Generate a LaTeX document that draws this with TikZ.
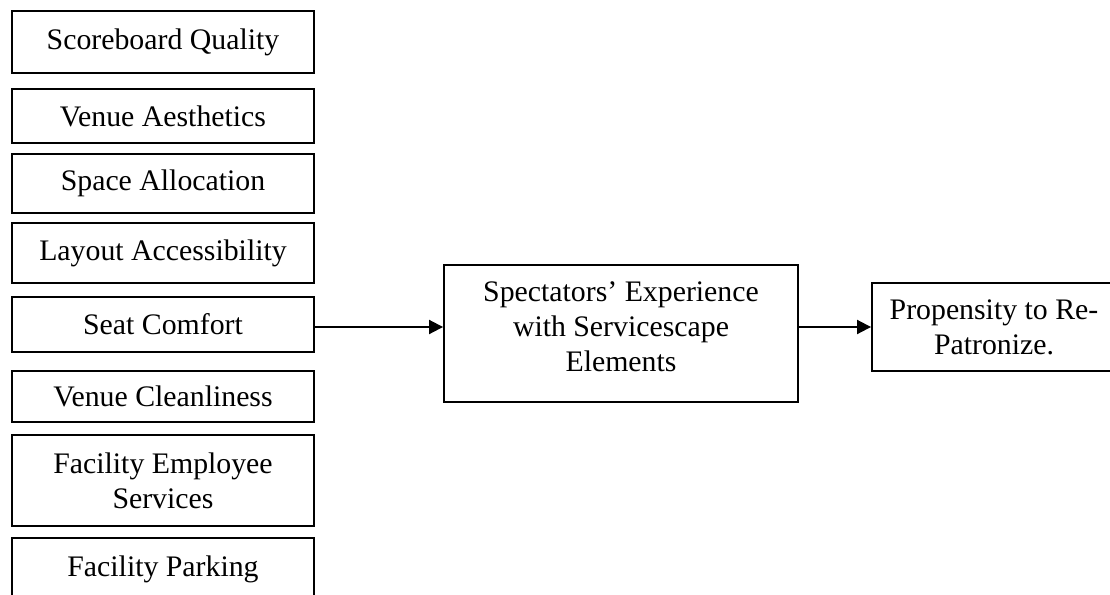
\documentclass[tikz,border=0pt]{standalone}
\usepackage{fontspec}
\setmainfont{Liberation Serif}
\usetikzlibrary{arrows.meta}
\begin{document}
\begin{tikzpicture}[x=1pt,y=-1pt,
  box/.style={draw, line width=1.9pt, inner sep=0pt, align=center,
    font=\fontsize{29.8}{35}\selectfont},
  factor/.style={box, minimum width=302pt},
  link/.style={line width=1.9pt, -{Triangle[length=14pt,width=14pt]}}]
\useasboundingbox (0,0) rectangle (1110,594);
\clip (0,0) rectangle (1110,594);

% servicescape factors
\node[factor, minimum height=62pt] (sq) at (163,42)    {Scoreboard Quality};
\node[factor, minimum height=54pt] (va) at (163,116)   {Venue Aesthetics};
\node[factor, minimum height=59pt] (sa) at (163,183.5) {Space Allocation};
\node[factor, minimum height=60pt] (la) at (163,253)   {Layout Accessibility};
\node[factor, minimum height=55pt] (sc) at (163,324.5) {Seat Comfort};
\node[factor, minimum height=51pt] (vc) at (163,396.5) {Venue Cleanliness};
\node[factor, minimum height=91pt] (fe) at (163,480.5) {Facility Employee\\Services};
\node[factor, minimum height=62pt] (fp) at (163,569)   {Facility Parking};

% experience and outcome
\node[box, minimum width=354pt, minimum height=137pt] (exp) at (621,333.5)
  {Spectators’ Experience\\with Servicescape\\Elements\rule[-13pt]{0pt}{13pt}};
\node[box, minimum width=244pt, minimum height=88pt] (rp) at (994,327)
  {Propensity to Re-\\Patronize.};

% connectors
\coordinate (scout) at ([yshift=-2.5pt]sc.east);
\draw[link] (scout) -- (scout -| exp.west);
\draw[link] (exp.east |- rp.west) -- (rp.west);
\end{tikzpicture}
\end{document}
